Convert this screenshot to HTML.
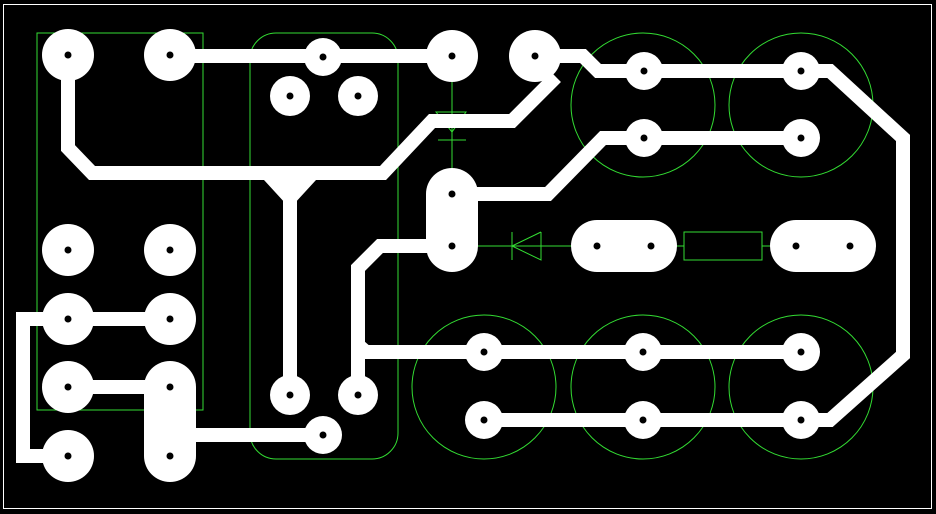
<!DOCTYPE html>
<html><head><style>html,body{margin:0;padding:0;background:#000}svg{display:block}</style></head><body>
<svg width="936" height="514" viewBox="0 0 936 514" xmlns="http://www.w3.org/2000/svg">
<rect width="936" height="514" fill="#000"/>
<rect x="3.5" y="4.5" width="928" height="504" fill="none" stroke="#fff" stroke-width="1"/>
<g fill="none" stroke="#33dd33" stroke-width="1">
<rect x="37" y="33" width="166" height="377"/>
<rect x="250" y="33" width="148" height="426" rx="26"/>
<circle cx="643" cy="105" r="72"/><circle cx="801" cy="105" r="72"/>
<circle cx="484" cy="387" r="72"/><circle cx="643" cy="387" r="72"/><circle cx="801" cy="387" r="72"/>
<path d="M452 82V168M436 112H466L452 132ZM438 140H466"/>
<path d="M478 246H572M512 232V260M541 232V260L512 246L541 232"/>
<rect x="684" y="232" width="78" height="28"/><path d="M676 246H684M762 246H770"/>
</g>
<g fill="none" stroke="#fff" stroke-width="14" stroke-linejoin="miter">
<path d="M68 55V148L92 173H383L432 121H512L556 77"/>
<path d="M170 56H452"/>
<path d="M290 173V395"/>
<path d="M535 56H583L598 71H830L903 138V355L830 420H484"/>
<path d="M452 194H548L603 138H801"/>
<path d="M452 246H380L358 268V345L366 352H801"/>
<path d="M358 345V395"/>
<path d="M68 319H170M68 319H23V456H68M68 387H170M170 435H323"/>
</g>
<path d="M264 180H316L294 204H286Z" fill="#fff"/>
<g fill="#fff">
<circle cx="68" cy="55" r="26"/><circle cx="170" cy="55" r="26"/>
<circle cx="68" cy="250" r="26"/><circle cx="170" cy="250" r="26"/>
<circle cx="68" cy="319" r="26"/><circle cx="170" cy="319" r="26"/>
<circle cx="68" cy="387" r="26"/><circle cx="68" cy="456" r="26"/>
<rect x="144" y="361" width="52" height="121" rx="26"/>
<circle cx="323" cy="57" r="19"/><circle cx="290" cy="96" r="20"/><circle cx="358" cy="96" r="20"/>
<circle cx="290" cy="395" r="20"/><circle cx="358" cy="395" r="20"/><circle cx="323" cy="435" r="19"/>
<circle cx="452" cy="56" r="26"/><circle cx="535" cy="56" r="26"/>
<rect x="426" y="168" width="52" height="104" rx="26"/>
<circle cx="644" cy="71" r="19"/><circle cx="801" cy="71" r="19"/>
<circle cx="644" cy="138" r="19"/><circle cx="801" cy="138" r="19"/>
<rect x="571" y="220" width="106" height="52" rx="26"/>
<rect x="770" y="220" width="106" height="52" rx="26"/>
<circle cx="484" cy="352" r="19"/><circle cx="643" cy="352" r="19"/><circle cx="801" cy="352" r="19"/>
<circle cx="484" cy="420" r="19"/><circle cx="643" cy="420" r="19"/><circle cx="801" cy="420" r="19"/>
</g>
<g fill="#000">
<circle cx="68" cy="55" r="3.5"/><circle cx="170" cy="55" r="3.5"/>
<circle cx="68" cy="250" r="3.5"/><circle cx="170" cy="250" r="3.5"/>
<circle cx="68" cy="319" r="3.5"/><circle cx="170" cy="319" r="3.5"/>
<circle cx="68" cy="387" r="3.5"/><circle cx="170" cy="387" r="3.5"/>
<circle cx="68" cy="456" r="3.5"/><circle cx="170" cy="456" r="3.5"/>
<circle cx="323" cy="57" r="3.5"/><circle cx="290" cy="96" r="3.5"/><circle cx="358" cy="96" r="3.5"/>
<circle cx="290" cy="395" r="3.5"/><circle cx="358" cy="395" r="3.5"/><circle cx="323" cy="435" r="3.5"/>
<circle cx="452" cy="56" r="3.5"/><circle cx="535" cy="56" r="3.5"/>
<circle cx="452" cy="194" r="3.5"/><circle cx="452" cy="246" r="3.5"/>
<circle cx="644" cy="71" r="3.5"/><circle cx="801" cy="71" r="3.5"/>
<circle cx="644" cy="138" r="3.5"/><circle cx="801" cy="138" r="3.5"/>
<circle cx="597" cy="246" r="3.5"/><circle cx="651" cy="246" r="3.5"/>
<circle cx="796" cy="246" r="3.5"/><circle cx="850" cy="246" r="3.5"/>
<circle cx="484" cy="352" r="3.5"/><circle cx="643" cy="352" r="3.5"/><circle cx="801" cy="352" r="3.5"/>
<circle cx="484" cy="420" r="3.5"/><circle cx="643" cy="420" r="3.5"/><circle cx="801" cy="420" r="3.5"/>
</g>
</svg>
</body></html>
